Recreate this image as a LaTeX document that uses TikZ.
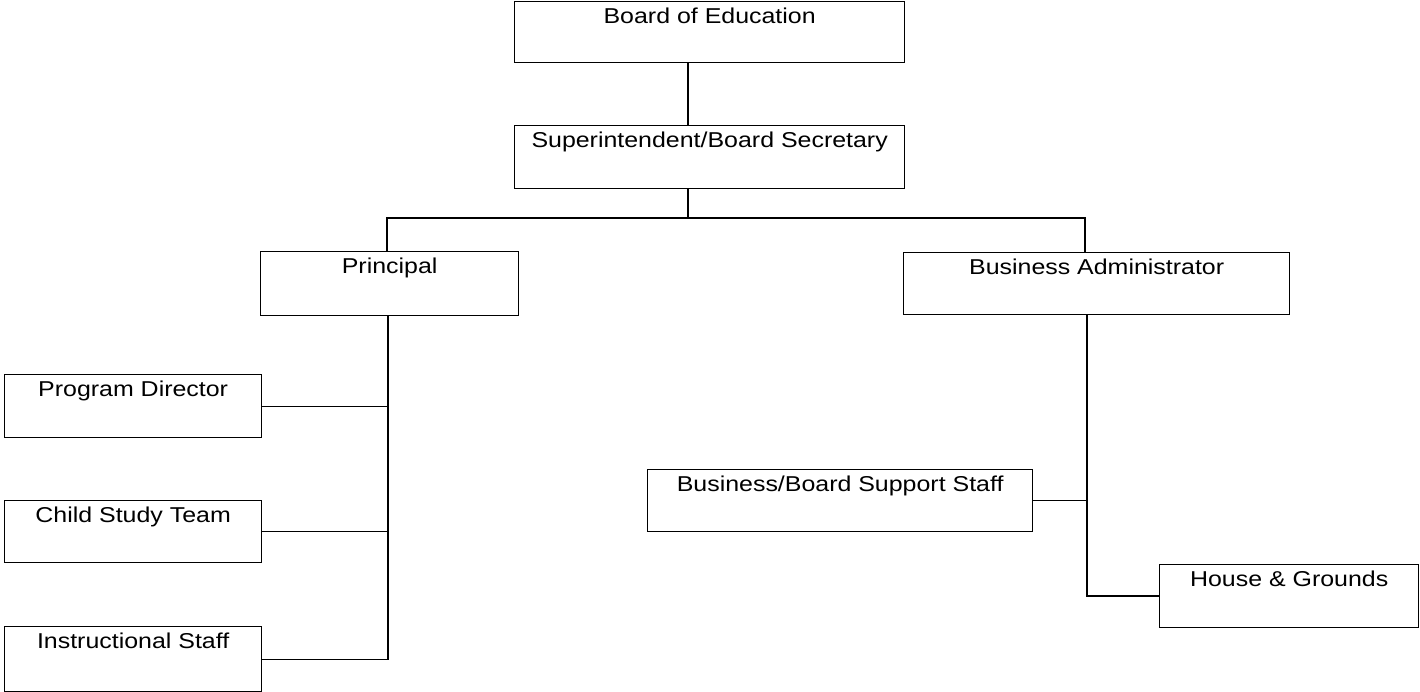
\documentclass[tikz,border=0pt]{standalone}
\usepackage{fontspec}
\setmainfont[FakeStretch=1.16]{Liberation Sans}
\begin{document}
\begin{tikzpicture}[x=1pt,y=-1pt,
  box/.style={draw=black, line width=1.3pt, anchor=north west, inner sep=0pt,
    font=\fontsize{21.5}{26}\selectfont, text height=22pt},
  conn/.style={draw=black, line width=1.3pt}]
\useasboundingbox (0,0) rectangle (1420,692);
\node[box, minimum width=390pt, text depth=39pt] (board) at (514,1) {Board of Education};
\node[box, minimum width=390pt, text depth=41pt] (sup) at (514,125) {Superintendent/Board Secretary};
\node[box, minimum width=258pt, text depth=42pt] (pr) at (260,251) {Principal};
\node[box, minimum width=386pt, text depth=40pt] (ba) at (903,252) {Business Administrator};
\node[box, minimum width=257pt, text depth=41pt] (pd) at (4,374) {Program Director};
\node[box, minimum width=257pt, text depth=40pt] (cst) at (4,500) {Child Study Team};
\node[box, minimum width=257pt, text depth=43pt] (is) at (4,626) {Instructional Staff};
\node[box, minimum width=385pt, text depth=40pt] (bbss) at (647,469) {Business/Board Support Staff};
\node[box, minimum width=259pt, text depth=41pt] (hg) at (1159,564) {House \& Grounds};
\coordinate (top) at (688,218);
\coordinate (pl) at (387,218);
\coordinate (br) at (1085,218);
\coordinate (pt) at (388,658);
\coordinate (bt) at (1087,596);
\draw[conn] (top |- board.south) -- (top |- sup.north);
\draw[conn] (top |- sup.south) -- (top);
\draw[conn] (pl |- pr.north) -- (pl) -- (br) -- (br |- ba.north);
\draw[conn] (pt |- pr.south) -- (pt |- is.east) -- (is.east);
\draw[conn] (pd.east) -- (pt |- pd.east);
\draw[conn] (cst.east) -- (pt |- cst.east);
\draw[conn] (bt |- ba.south) -- (bt) -- (bt -| hg.west);
\draw[conn] (bbss.east) -- (bt |- bbss.east);
\end{tikzpicture}
\end{document}
